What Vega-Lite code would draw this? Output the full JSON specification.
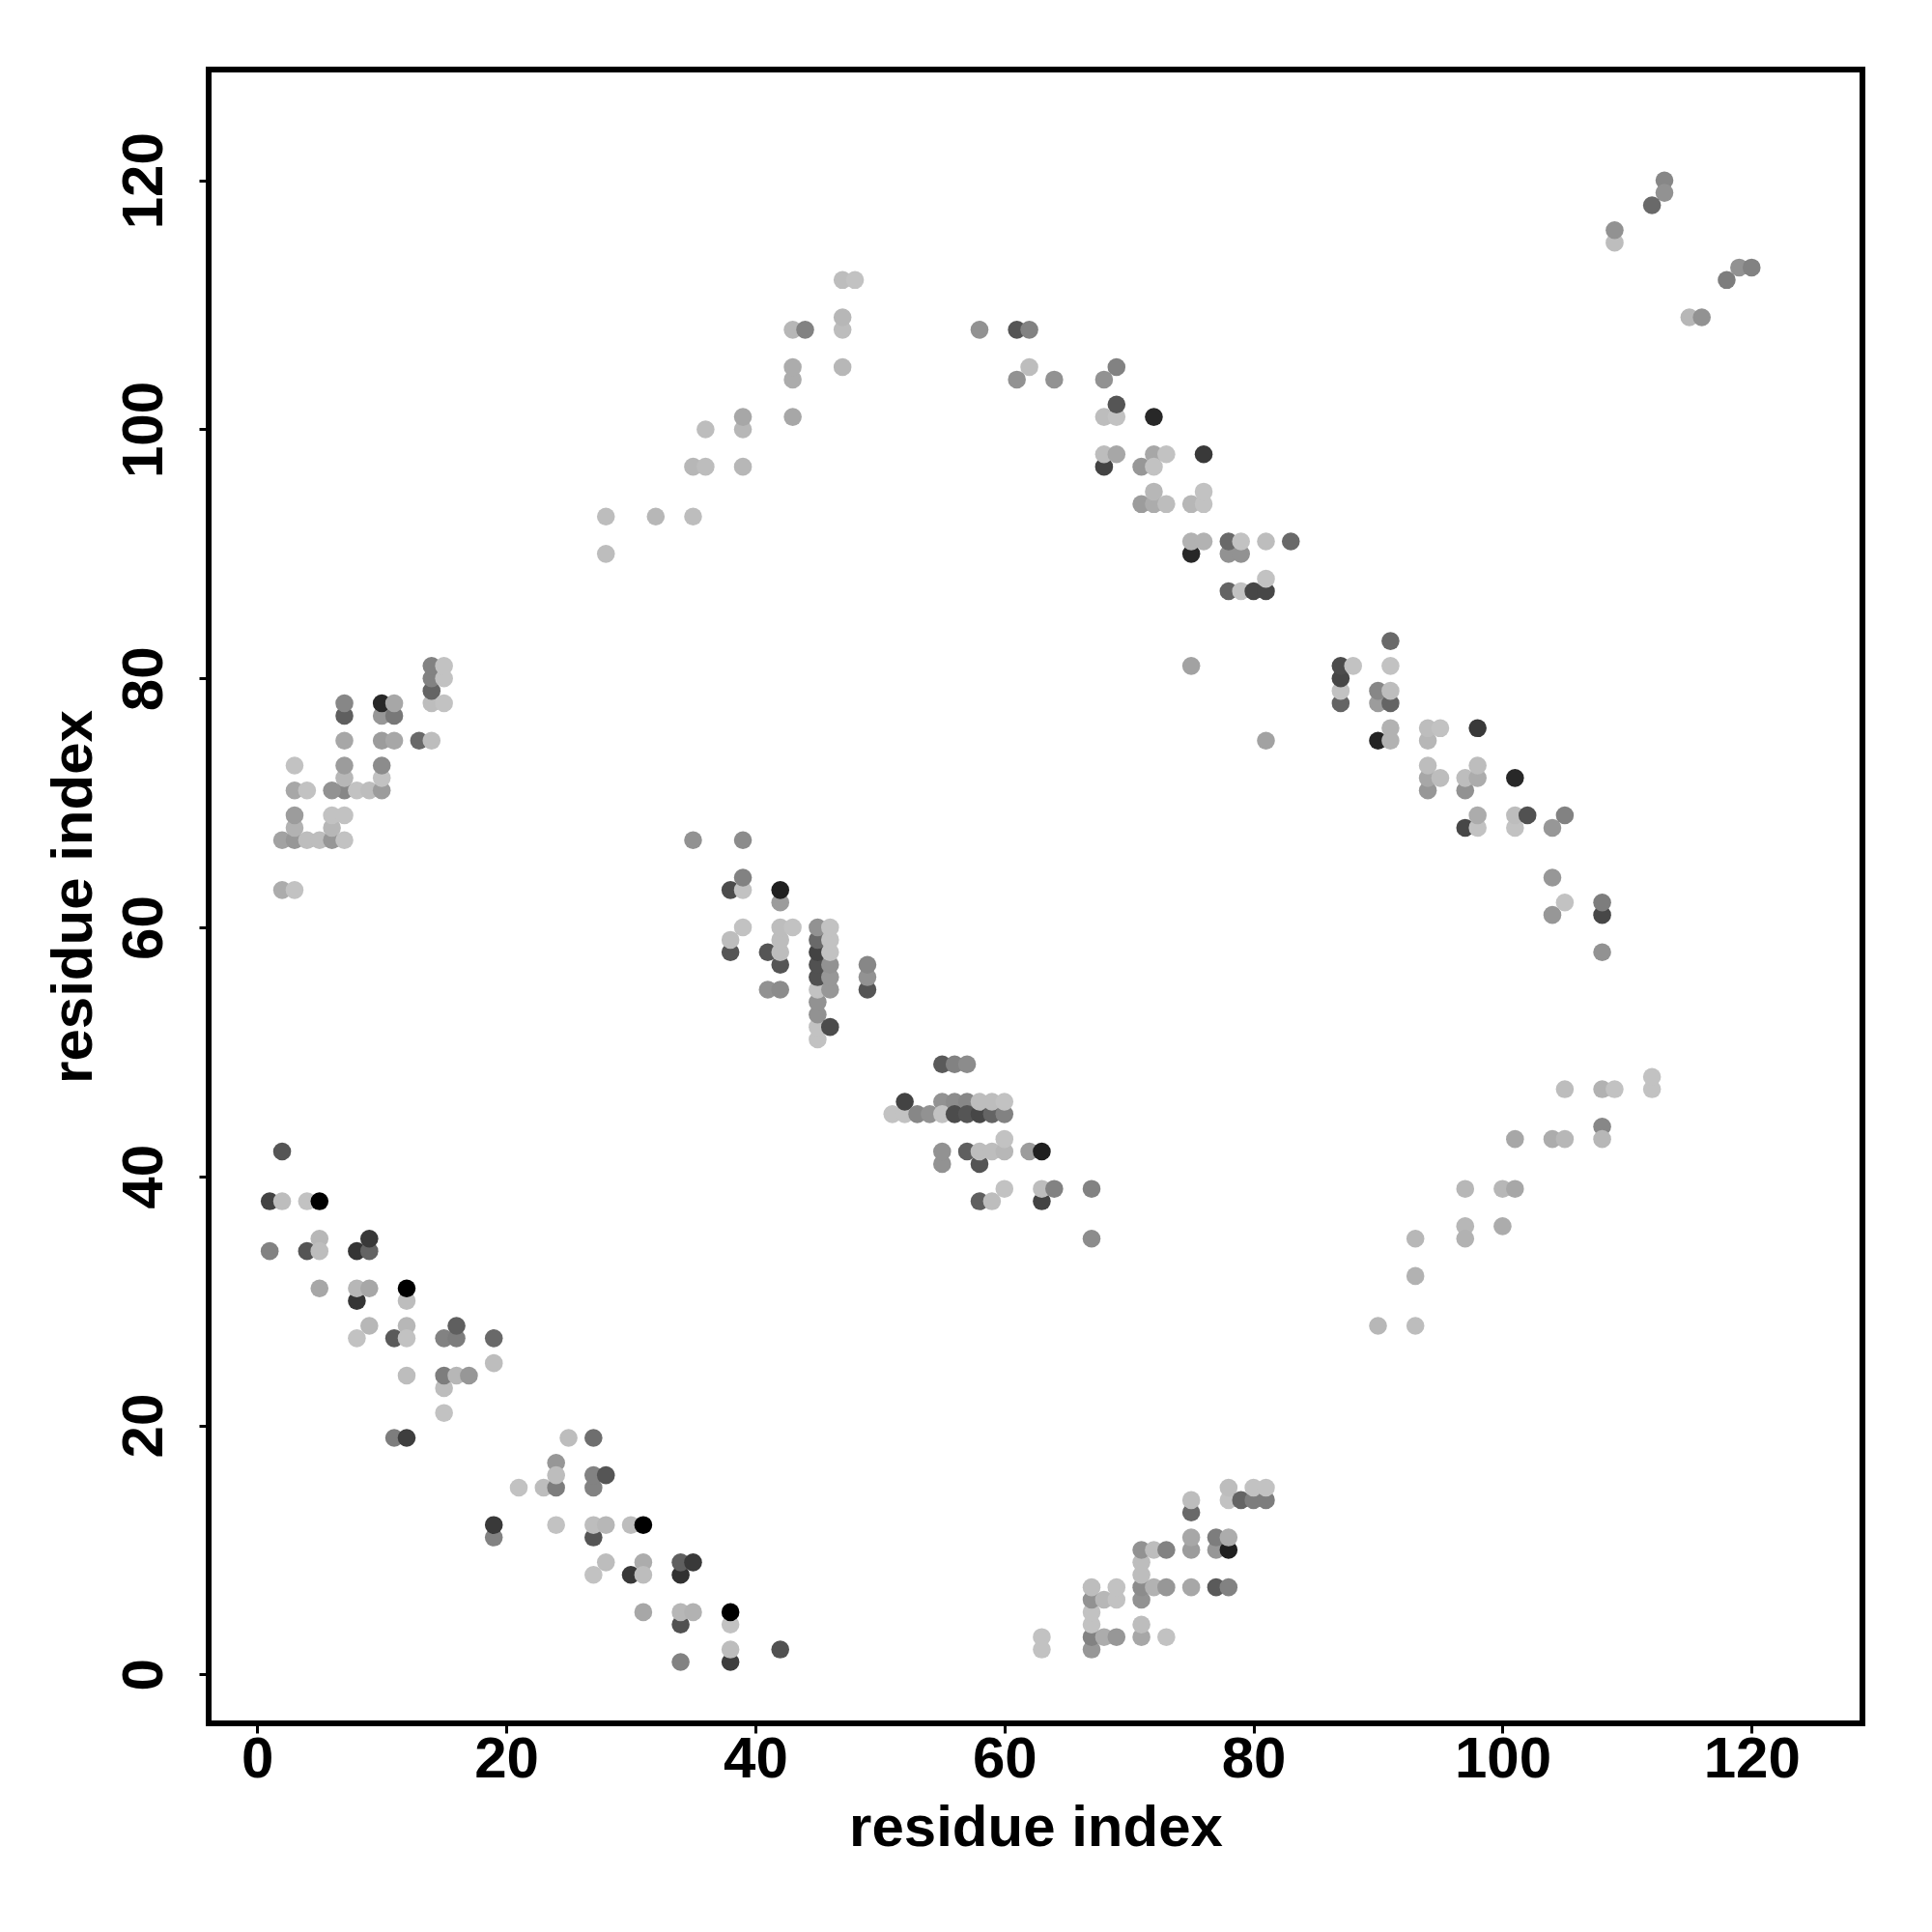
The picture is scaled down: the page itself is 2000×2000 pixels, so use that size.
{"$schema":"https://vega.github.io/schema/vega-lite/v6.json","autosize":"none","padding":{"left":216,"top":72,"right":72,"bottom":216},"width":1712,"height":1712,"background":"white","view":{"stroke":"black","strokeWidth":6,"fill":"white"},"config":{"font":"Liberation Sans"},
"data":{"values":[
{"a":2,"b":42,"g":90},{"a":1,"b":38,"g":70},{"a":2,"b":38,"g":190},{"a":4,"b":38,"g":195},{"a":5,"b":38,"g":0},{"a":1,"b":34,"g":135},{"a":4,"b":34,"g":90},{"a":5,"b":35,"g":185},{"a":5,"b":34,"g":190},{"a":8,"b":34,"g":55},{"a":9,"b":34,"g":105},{"a":9,"b":35,"g":60},{"a":5,"b":31,"g":170},{"a":8,"b":30,"g":55},{"a":8,"b":31,"g":185},{"a":9,"b":31,"g":170},{"a":12,"b":30,"g":190},{"a":12,"b":31,"g":0},{"a":9,"b":28,"g":185},{"a":8,"b":27,"g":195},{"a":11,"b":27,"g":95},{"a":12,"b":28,"g":185},{"a":12,"b":27,"g":195},{"a":15,"b":27,"g":135},{"a":16,"b":27,"g":130},{"a":16,"b":28,"g":100},{"a":19,"b":27,"g":110},{"a":19,"b":25,"g":190},{"a":12,"b":24,"g":190},{"a":15,"b":23,"g":190},{"a":15,"b":24,"g":130},{"a":16,"b":24,"g":185},{"a":17,"b":24,"g":155},{"a":15,"b":21,"g":195},{"a":11,"b":19,"g":130},{"a":12,"b":19,"g":65},
{"a":25,"b":19,"g":190},{"a":27,"b":19,"g":115},{"a":24,"b":17,"g":155},{"a":21,"b":15,"g":195},{"a":23,"b":15,"g":190},{"a":24,"b":15,"g":130},{"a":24,"b":16,"g":190},{"a":27,"b":15,"g":135},{"a":27,"b":16,"g":135},{"a":28,"b":16,"g":90},{"a":19,"b":11,"g":135},{"a":19,"b":12,"g":60},{"a":24,"b":12,"g":195},{"a":27,"b":11,"g":90},{"a":27,"b":12,"g":190},{"a":28,"b":12,"g":185},{"a":30,"b":12,"g":190},{"a":31,"b":12,"g":0},{"a":28,"b":9,"g":190},{"a":27,"b":8,"g":195},{"a":30,"b":8,"g":60},{"a":31,"b":9,"g":175},{"a":31,"b":8,"g":190},{"a":34,"b":8,"g":50},{"a":34,"b":9,"g":100},{"a":35,"b":9,"g":60},{"a":31,"b":5,"g":170},{"a":34,"b":4,"g":85},{"a":34,"b":5,"g":185},{"a":35,"b":5,"g":180},{"a":38,"b":4,"g":195},{"a":38,"b":5,"g":0},{"a":38,"b":1,"g":65},{"a":38,"b":2,"g":190},{"a":42,"b":2,"g":85},{"a":34,"b":1,"g":135},
{"a":63,"b":3,"g":195},{"a":63,"b":2,"g":195},{"a":67,"b":2,"g":155},{"a":67,"b":3,"g":135},{"a":67,"b":4,"g":195},{"a":67,"b":5,"g":195},{"a":67,"b":6,"g":150},{"a":67,"b":7,"g":190},{"a":68,"b":3,"g":175},{"a":68,"b":6,"g":185},{"a":69,"b":3,"g":155},{"a":69,"b":6,"g":195},{"a":69,"b":7,"g":195},{"a":71,"b":3,"g":170},{"a":71,"b":4,"g":190},{"a":71,"b":6,"g":150},{"a":71,"b":7,"g":145},{"a":71,"b":8,"g":190},{"a":71,"b":9,"g":190},{"a":71,"b":10,"g":150},{"a":72,"b":7,"g":180},{"a":72,"b":10,"g":190},{"a":73,"b":3,"g":195},{"a":73,"b":7,"g":155},{"a":73,"b":10,"g":135},{"a":75,"b":7,"g":170},{"a":75,"b":10,"g":160},{"a":75,"b":11,"g":170},{"a":75,"b":13,"g":110},{"a":75,"b":14,"g":190},{"a":77,"b":7,"g":95},{"a":77,"b":10,"g":155},{"a":77,"b":11,"g":130},{"a":78,"b":7,"g":135},{"a":78,"b":10,"g":30},{"a":78,"b":11,"g":175},{"a":78,"b":14,"g":195},{"a":78,"b":15,"g":190},{"a":79,"b":14,"g":105},{"a":80,"b":14,"g":130},{"a":80,"b":15,"g":195},{"a":81,"b":14,"g":130},{"a":81,"b":15,"g":195},
{"a":55,"b":49,"g":95},{"a":56,"b":49,"g":135},{"a":57,"b":49,"g":145},{"a":51,"b":45,"g":195},{"a":52,"b":45,"g":195},{"a":52,"b":46,"g":70},{"a":53,"b":45,"g":140},{"a":54,"b":45,"g":150},{"a":55,"b":46,"g":150},{"a":55,"b":45,"g":195},{"a":56,"b":46,"g":145},{"a":56,"b":45,"g":80},{"a":57,"b":46,"g":140},{"a":57,"b":45,"g":90},{"a":58,"b":45,"g":75},{"a":58,"b":46,"g":190},{"a":59,"b":45,"g":105},{"a":59,"b":46,"g":190},{"a":60,"b":45,"g":135},{"a":60,"b":46,"g":195},{"a":55,"b":41,"g":150},{"a":55,"b":42,"g":150},{"a":57,"b":42,"g":100},{"a":58,"b":41,"g":90},{"a":58,"b":42,"g":190},{"a":59,"b":42,"g":190},{"a":60,"b":42,"g":185},{"a":60,"b":43,"g":195},{"a":62,"b":42,"g":160},{"a":63,"b":42,"g":30},{"a":58,"b":38,"g":100},{"a":59,"b":38,"g":190},{"a":60,"b":39,"g":195},{"a":63,"b":38,"g":70},{"a":63,"b":39,"g":190},{"a":64,"b":39,"g":135},{"a":67,"b":39,"g":135},{"a":67,"b":35,"g":145},
{"a":35,"b":67,"g":150},{"a":39,"b":67,"g":145},{"a":38,"b":63,"g":80},{"a":39,"b":63,"g":195},{"a":39,"b":64,"g":135},{"a":42,"b":62,"g":160},{"a":42,"b":63,"g":30},{"a":39,"b":60,"g":195},{"a":38,"b":58,"g":90},{"a":38,"b":59,"g":190},{"a":41,"b":58,"g":90},{"a":42,"b":57,"g":90},{"a":42,"b":58,"g":190},{"a":42,"b":59,"g":190},{"a":42,"b":60,"g":190},{"a":43,"b":60,"g":195},{"a":41,"b":55,"g":150},{"a":42,"b":55,"g":145},{"a":45,"b":51,"g":195},{"a":45,"b":52,"g":195},{"a":45,"b":53,"g":150},{"a":45,"b":54,"g":150},{"a":45,"b":55,"g":195},{"a":45,"b":56,"g":85},{"a":45,"b":57,"g":85},{"a":45,"b":58,"g":70},{"a":45,"b":59,"g":110},{"a":45,"b":60,"g":150},{"a":46,"b":52,"g":80},{"a":46,"b":55,"g":155},{"a":46,"b":56,"g":155},{"a":46,"b":57,"g":150},{"a":46,"b":58,"g":195},{"a":46,"b":59,"g":195},{"a":46,"b":60,"g":195},{"a":49,"b":55,"g":90},{"a":49,"b":56,"g":150},{"a":49,"b":57,"g":140},
{"a":14,"b":78,"g":190},{"a":14,"b":79,"g":105},{"a":14,"b":80,"g":135},{"a":14,"b":81,"g":135},{"a":15,"b":78,"g":195},{"a":15,"b":80,"g":195},{"a":15,"b":81,"g":195},{"a":7,"b":77,"g":100},{"a":7,"b":78,"g":140},{"a":10,"b":77,"g":155},{"a":10,"b":78,"g":40},{"a":11,"b":77,"g":125},{"a":11,"b":78,"g":170},{"a":7,"b":75,"g":170},{"a":10,"b":75,"g":160},{"a":11,"b":75,"g":170},{"a":13,"b":75,"g":110},{"a":14,"b":75,"g":190},{"a":3,"b":73,"g":195},{"a":7,"b":71,"g":140},{"a":7,"b":72,"g":185},{"a":7,"b":73,"g":160},{"a":3,"b":71,"g":170},{"a":4,"b":71,"g":195},{"a":6,"b":71,"g":150},{"a":8,"b":71,"g":195},{"a":9,"b":71,"g":190},{"a":10,"b":71,"g":160},{"a":10,"b":72,"g":195},{"a":10,"b":73,"g":145},{"a":2,"b":67,"g":165},{"a":3,"b":67,"g":155},{"a":3,"b":68,"g":180},{"a":3,"b":69,"g":160},{"a":4,"b":67,"g":190},{"a":5,"b":67,"g":190},{"a":6,"b":67,"g":155},{"a":6,"b":68,"g":185},{"a":6,"b":69,"g":195},{"a":7,"b":67,"g":195},{"a":7,"b":69,"g":195},{"a":2,"b":63,"g":175},{"a":3,"b":63,"g":195},
{"a":91,"b":83,"g":110},{"a":87,"b":78,"g":105},{"a":87,"b":79,"g":195},{"a":87,"b":80,"g":75},{"a":87,"b":81,"g":80},{"a":88,"b":81,"g":195},{"a":91,"b":81,"g":195},{"a":90,"b":78,"g":160},{"a":90,"b":79,"g":140},{"a":91,"b":78,"g":105},{"a":91,"b":79,"g":190},{"a":90,"b":75,"g":35},{"a":91,"b":75,"g":180},{"a":91,"b":76,"g":180},{"a":94,"b":75,"g":185},{"a":94,"b":76,"g":190},{"a":95,"b":76,"g":195},{"a":98,"b":76,"g":60},{"a":94,"b":71,"g":155},{"a":94,"b":72,"g":170},{"a":94,"b":73,"g":190},{"a":95,"b":72,"g":190},{"a":97,"b":71,"g":150},{"a":97,"b":72,"g":190},{"a":98,"b":72,"g":175},{"a":98,"b":73,"g":190},{"a":101,"b":72,"g":40},{"a":97,"b":68,"g":75},{"a":98,"b":68,"g":195},{"a":98,"b":69,"g":175},{"a":101,"b":68,"g":195},{"a":101,"b":69,"g":190},{"a":102,"b":69,"g":85},{"a":104,"b":68,"g":155},{"a":105,"b":69,"g":135},{"a":104,"b":64,"g":155},{"a":104,"b":61,"g":155},{"a":105,"b":62,"g":195},{"a":108,"b":61,"g":75},{"a":108,"b":62,"g":130},{"a":108,"b":58,"g":150},
{"a":69,"b":105,"g":135},{"a":68,"b":104,"g":150},{"a":68,"b":101,"g":190},{"a":69,"b":101,"g":195},{"a":69,"b":102,"g":90},{"a":72,"b":101,"g":40},{"a":68,"b":97,"g":70},{"a":68,"b":98,"g":190},{"a":69,"b":98,"g":170},{"a":71,"b":97,"g":155},{"a":72,"b":98,"g":170},{"a":72,"b":97,"g":195},{"a":73,"b":98,"g":195},{"a":76,"b":98,"g":60},{"a":71,"b":94,"g":160},{"a":72,"b":94,"g":175},{"a":72,"b":95,"g":185},{"a":73,"b":94,"g":190},{"a":75,"b":94,"g":185},{"a":76,"b":94,"g":195},{"a":76,"b":95,"g":195},{"a":75,"b":90,"g":40},{"a":75,"b":91,"g":180},{"a":76,"b":91,"g":180},{"a":78,"b":90,"g":150},{"a":79,"b":90,"g":150},{"a":78,"b":91,"g":110},{"a":79,"b":91,"g":195},{"a":81,"b":91,"g":190},{"a":83,"b":91,"g":110},{"a":78,"b":87,"g":105},{"a":79,"b":87,"g":195},{"a":80,"b":87,"g":75},{"a":81,"b":87,"g":75},{"a":81,"b":88,"g":195},
{"a":28,"b":93,"g":190},{"a":28,"b":90,"g":190},{"a":32,"b":93,"g":185},{"a":35,"b":93,"g":190},{"a":35,"b":97,"g":185},{"a":36,"b":97,"g":190},{"a":36,"b":100,"g":190},{"a":39,"b":97,"g":185},{"a":39,"b":100,"g":185},{"a":39,"b":101,"g":170},{"a":43,"b":101,"g":170},{"a":43,"b":104,"g":175},{"a":43,"b":105,"g":175},{"a":43,"b":108,"g":185},{"a":44,"b":108,"g":135},{"a":47,"b":105,"g":185},{"a":47,"b":108,"g":190},{"a":47,"b":109,"g":185},{"a":47,"b":112,"g":190},{"a":48,"b":112,"g":195},{"a":58,"b":108,"g":150},{"a":61,"b":108,"g":90},{"a":62,"b":108,"g":135},{"a":61,"b":104,"g":150},{"a":62,"b":105,"g":190},{"a":64,"b":104,"g":150},{"a":75,"b":81,"g":165},{"a":81,"b":75,"g":165},
{"a":113,"b":120,"g":140},{"a":113,"b":119,"g":150},{"a":112,"b":118,"g":110},{"a":109,"b":115,"g":190},{"a":109,"b":116,"g":150},{"a":118,"b":112,"g":130},{"a":119,"b":113,"g":150},{"a":120,"b":113,"g":135},{"a":115,"b":109,"g":185},{"a":116,"b":109,"g":150},
{"a":90,"b":28,"g":185},{"a":93,"b":28,"g":190},{"a":93,"b":32,"g":180},{"a":93,"b":35,"g":185},{"a":97,"b":36,"g":185},{"a":97,"b":35,"g":180},{"a":97,"b":39,"g":185},{"a":100,"b":39,"g":185},{"a":101,"b":39,"g":170},{"a":100,"b":36,"g":175},{"a":101,"b":43,"g":170},{"a":104,"b":43,"g":175},{"a":105,"b":43,"g":185},{"a":105,"b":47,"g":190},{"a":108,"b":47,"g":180},{"a":109,"b":47,"g":195},{"a":108,"b":44,"g":140},{"a":108,"b":43,"g":185},{"a":112,"b":47,"g":195},{"a":112,"b":48,"g":195}
]},
"mark":{"type":"point","filled":true,"shape":"circle","size":345,"opacity":1},
"encoding":{
"x":{"field":"a","type":"quantitative","scale":{"domain":[-3.9,128.9],"nice":false,"zero":false},"axis":{"title":"residue index","values":[0,20,40,60,80,100,120],"grid":false,"domain":false,"tickColor":"black","tickWidth":3,"tickSize":10,"labelFont":"Liberation Sans","labelFontWeight":"bold","labelFontSize":60,"labelColor":"black","labelPadding":-2,"labelFlush":false,"titleFont":"Liberation Sans","titleFontWeight":"bold","titleFontSize":60,"titleColor":"black","titlePadding":12}},
"y":{"field":"b","type":"quantitative","scale":{"domain":[-3.93,128.9],"nice":false,"zero":false},"axis":{"title":"residue index","values":[0,20,40,60,80,100,120],"grid":false,"domain":false,"tickColor":"black","tickWidth":3,"tickSize":10,"labelFont":"Liberation Sans","labelFontWeight":"bold","labelFontSize":60,"labelColor":"black","labelAngle":-90,"labelAlign":"center","labelBaseline":"bottom","labelPadding":26,"labelFlush":false,"titleFont":"Liberation Sans","titleFontWeight":"bold","titleFontSize":60,"titleColor":"black","titlePadding":12}},
"color":{"field":"g","type":"quantitative","scale":{"domain":[0,200],"range":["#000000","#c8c8c8"]},"legend":null}
}}
